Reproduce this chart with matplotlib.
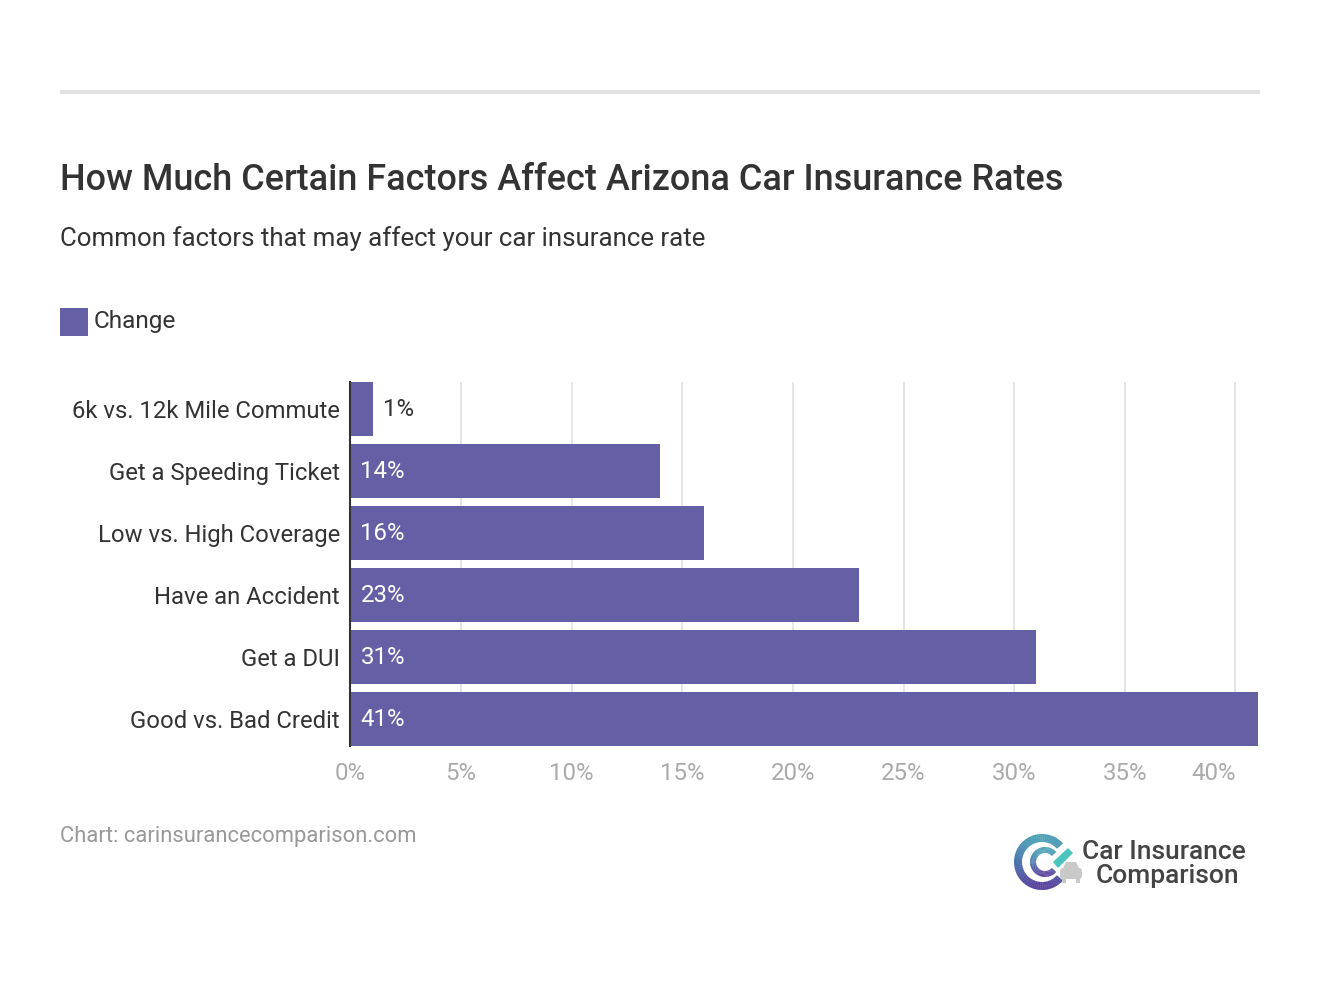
import matplotlib
matplotlib.use("Agg")
import matplotlib.pyplot as plt
import numpy as np
from matplotlib.colors import LinearSegmentedColormap
from matplotlib.patches import FancyBboxPatch, Polygon, Rectangle, Wedge

plt.rcParams["font.family"] = ["Roboto", "DejaVu Sans"]

W, H = 1320, 994
BAR = "#655fa6"

factors = [
    "6k vs. 12k Mile Commute",
    "Get a Speeding Ticket",
    "Low vs. High Coverage",
    "Have an Accident",
    "Get a DUI",
    "Good vs. Bad Credit",
]
change = [1, 14, 16, 23, 31, 41]
ticks = [0, 5, 10, 15, 20, 25, 30, 35, 40]

fig = plt.figure(figsize=(W / 100, H / 100), dpi=100, facecolor="white")

# overlay in pixel coords for the page furniture
page = fig.add_axes([0, 0, 1, 1])
page.set_xlim(0, W)
page.set_ylim(H, 0)
page.axis("off")

ax = fig.add_axes([350.4 / W, 1 - 746 / H, 908 / W, 364 / H])
y = np.arange(len(factors))
ax.barh(y, change, height=54 / 62, color=BAR, zorder=3)
ax.set_xlim(0, 908 / 22.125)
ax.set_ylim(5 + 27 / 62, -27 / 62)
ax.set_yticks(y, factors, fontsize=17.2, color="#333333")
ax.tick_params(axis="y", length=0, pad=7.5)
ax.set_xticks(ticks)
ax.set_xticklabels([f"{t}%" for t in ticks], fontsize=17.3, color="#aaaaaa")
ax.get_xticklabels()[-1].set_horizontalalignment("right")
ax.tick_params(axis="x", length=0, pad=11.5)
ax.grid(axis="x", color="#e6e6e6", lw=1.4, zorder=0)
ax.set_axisbelow(True)
for side in ["top", "right", "bottom"]:
    ax.spines[side].set_visible(False)
ax.spines["left"].set_color("#333333")
ax.spines["left"].set_linewidth(1.5)
ax.spines["left"].set_zorder(5)

for i, v in enumerate(change):
    if v < 3:
        ax.annotate(f"{v}%", (v, i), xytext=(7.2, -0.4), textcoords="offset points",
                    va="center", fontsize=17.3, color="#333333")
    else:
        ax.annotate(f"{v}%", (0, i), xytext=(7.2, -0.4), textcoords="offset points",
                    va="center", fontsize=17.3, color="white", zorder=6)

page.add_patch(Rectangle((60, 90), 1200, 4, color="#e2e2e2", lw=0))
page.text(60, 180, "How Much Certain Factors Affect Arizona Car Insurance Rates",
          fontsize=25.88, fontweight="medium", color="#333333", va="center")
page.text(60, 239, "Common factors that may affect your car insurance rate",
          fontsize=18.66, color="#333333", va="center")
page.add_patch(Rectangle((60, 308), 28, 28, color=BAR, lw=0))
page.text(94, 321.4, "Change", fontsize=17.6, color="#333333", va="center")
page.text(60, 836.4, "Chart: carinsurancecomparison.com", fontsize=15.85, color="#999999", va="center")

# logo, the gradient C is built out of short wedge slices
cmap = LinearSegmentedColormap.from_list("logo", ["#4fa3b8", "#4a78ae", "#5b45a0"])


def ring(cx, cy, r, width, start, end):
    angles = np.linspace(start, end, 60)
    for a0, a1 in zip(angles[:-1], angles[1:]):
        # page y runs downward, so positive sin is the bottom of the ring
        frac = np.clip((np.sin(np.radians(a0)) + 1) / 2, 0, 1)
        page.add_patch(Wedge((cx, cy), r, a0 - 0.4, a1 + 0.4, width=width,
                             color=cmap(frac), lw=0))


ring(1042, 862, 28, 8, 42, 318)
ring(1045, 862, 15, 6, 42, 318)
page.add_patch(Polygon([[1053, 862], [1068, 848], [1073, 853], [1058, 868]], color="#4cc4c0", lw=0))
page.add_patch(FancyBboxPatch((1060, 868), 22, 11, boxstyle="round,pad=0,rounding_size=3", color="#c9c9c9", lw=0))
page.add_patch(Polygon([[1063, 868], [1066, 862], [1076, 862], [1079, 868]], color="#c9c9c9", lw=0))
page.add_patch(Rectangle((1062, 879), 4, 4, color="#c9c9c9", lw=0))
page.add_patch(Rectangle((1076, 879), 4, 4, color="#c9c9c9", lw=0))
page.text(1164, 852, "Car Insurance", fontsize=19, fontweight="medium", color="#444444",
          va="center", ha="center")
page.text(1167, 876, "Comparison", fontsize=19, fontweight="medium", color="#444444",
          va="center", ha="center")

fig.savefig("out.png", dpi=100)
